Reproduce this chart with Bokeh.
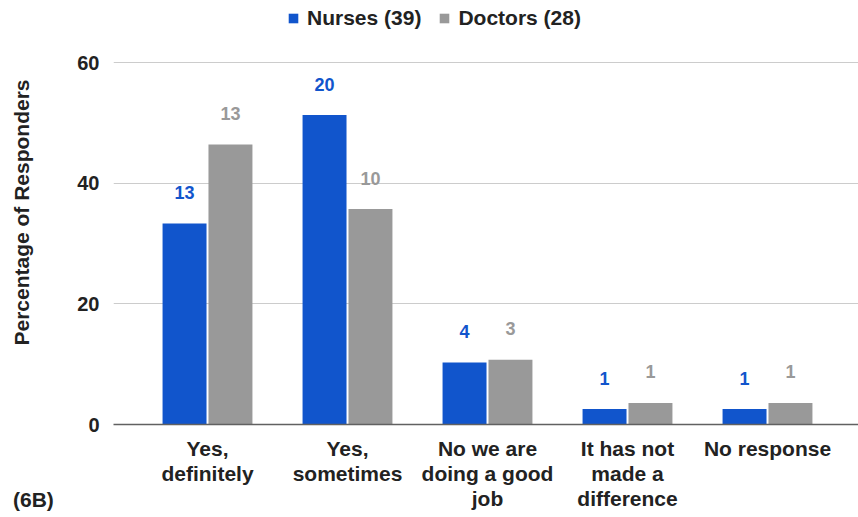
from bokeh.plotting import figure
from bokeh.layouts import column
from bokeh.models import (ColumnDataSource, Range1d, FixedTicker, Legend, LegendItem, Div)
from bokeh.core.properties import value
from bokeh.embed import file_html
from bokeh.resources import INLINE

# Survey answers (6B): respondents per answer, by profession
categories = ["Yes,\ndefinitely", "Yes,\nsometimes", "No we are\ndoing a good\njob",
              "It has not\nmade a\ndifference", "No response"]
nurse_counts = [13, 20, 4, 1, 1]
doctor_counts = [13, 10, 3, 1, 1]
nurse_total = 39
doctor_total = 28
y_ticks = [0, 20, 40, 60]

BLUE = "#1155cc"
GREY = "#999999"
FONT = "Liberation Sans"

idx = list(range(len(categories)))
nurse_pct = [c / nurse_total * 100 for c in nurse_counts]
doctor_pct = [c / doctor_total * 100 for c in doctor_counts]

off = 0.164
bw = 0.314
nurse_src = ColumnDataSource(dict(x=[i - off for i in idx], top=nurse_pct,
                                  label=[str(c) for c in nurse_counts]))
doctor_src = ColumnDataSource(dict(x=[i + off for i in idx], top=doctor_pct,
                                   label=[str(c) for c in doctor_counts]))

p = figure(width=858, height=517, output_backend="svg", toolbar_location=None,
           x_range=Range1d(-0.6714, 4.65), y_range=Range1d(0, 70.28),
           min_border_left=113, min_border_right=0, min_border_top=0, min_border_bottom=93)
p.outline_line_color = None
p.background_fill_color = "white"
p.border_fill_color = "white"

nr = p.vbar(x="x", top="top", width=bw, bottom=0, source=nurse_src,
            fill_color=BLUE, line_color=None)
dr = p.vbar(x="x", top="top", width=bw, bottom=0, source=doctor_src,
            fill_color=GREY, line_color=None)

# count labels above the bars
p.text(x="x", y="top", text="label", source=nurse_src, text_align="center",
       text_baseline="middle", y_offset=-31, text_color=BLUE,
       text_font=value(FONT), text_font_style="bold", text_font_size="18px")
p.text(x="x", y="top", text="label", source=doctor_src, text_align="center",
       text_baseline="middle", y_offset=-31, text_color=GREY,
       text_font=value(FONT), text_font_style="bold", text_font_size="18px")

# axes
p.xaxis.ticker = FixedTicker(ticks=idx)
p.xaxis.major_label_overrides = {i: c for i, c in zip(idx, categories)}
p.xaxis.major_label_text_font = FONT
p.xaxis.major_label_text_font_style = "bold"
p.xaxis.major_label_text_font_size = "21px"
p.xaxis.major_label_text_line_height = 1.1
p.xaxis.major_label_text_color = "#222222"
p.xaxis.major_label_standoff = 6
p.xaxis.major_tick_line_color = None
p.xaxis.minor_tick_line_color = None
p.xaxis.axis_line_color = "#616161"
p.xaxis.axis_line_width = 1.5

p.yaxis.ticker = FixedTicker(ticks=y_ticks)
p.yaxis.major_label_text_font = FONT
p.yaxis.major_label_text_font_style = "bold"
p.yaxis.major_label_text_font_size = "20px"
p.yaxis.major_label_text_color = "#222222"
p.yaxis.major_label_standoff = 8
p.yaxis.major_tick_line_color = None
p.yaxis.minor_tick_line_color = None
p.yaxis.axis_line_color = None
p.yaxis.axis_label = "Percentage of Responders"
p.yaxis.axis_label_text_font = FONT
p.yaxis.axis_label_text_font_style = "bold"
p.yaxis.axis_label_text_font_size = "21px"
p.yaxis.axis_label_text_color = "#222222"
p.yaxis.axis_label_standoff = 41

p.xgrid.grid_line_color = None
p.ygrid.grid_line_color = "#cccccc"
p.ygrid.grid_line_width = 1

legend = Legend(items=[LegendItem(label=f"Nurses ({nurse_total})", renderers=[nr]),
                       LegendItem(label=f"Doctors ({doctor_total})", renderers=[dr])],
                orientation="horizontal", location=(174, 394),
                padding=0, margin=0, spacing=17, label_standoff=8,
                glyph_width=12, glyph_height=12,
                label_text_font=FONT, label_text_font_style="bold",
                label_text_font_size="21px", label_text_color="#222222",
                border_line_color=None, background_fill_alpha=0)
p.add_layout(legend)

# panel tag in the bottom-left corner
tag = Div(text=f'<span style="font-family:\'{FONT}\';font-weight:bold;font-size:21px;'
               'color:#222222;line-height:24px;">(6B)</span>',
          margin=(-29, 0, 0, 13))

open("out.html", "w").write(file_html(column(p, tag, spacing=0), INLINE))
